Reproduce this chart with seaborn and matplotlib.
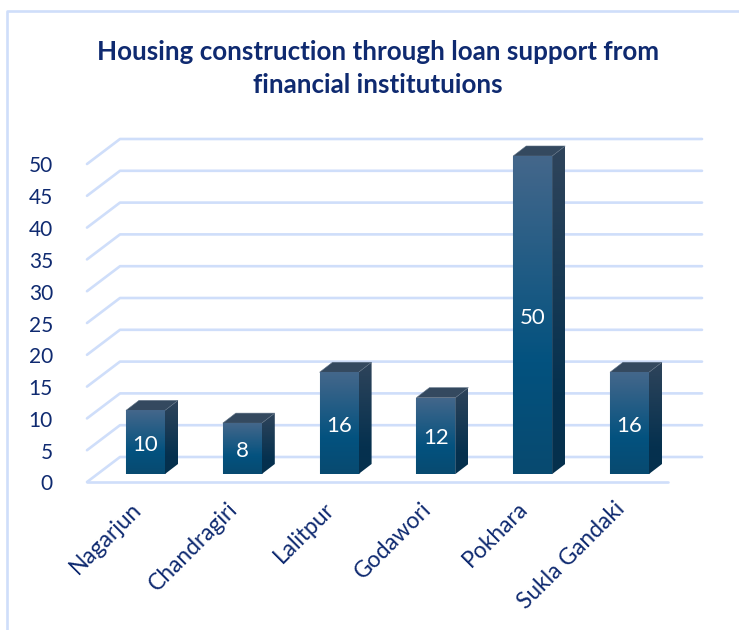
"""
Housing construction through loan support, drawn as a fake 3D column chart.
Front faces come from sns.barplot, the depth faces are added on top of them.
"""
import numpy as np
import pandas as pd
import seaborn as sns
import matplotlib
matplotlib.use('Agg')
import matplotlib.pyplot as plt
from matplotlib.lines import Line2D
from matplotlib.patches import Polygon
from matplotlib.transforms import ScaledTranslation
from matplotlib.colors import LinearSegmentedColormap

sites = ['Nagarjun', 'Chandragiri', 'Lalitpur', 'Godawori', 'Pokhara', 'Sukla Gandaki']
houses = [10, 8, 16, 12, 50, 16]
yticks = [0, 5, 10, 15, 20, 25, 30, 35, 40, 45, 50]
title = 'Housing construction through loan support from\nfinancial institutuions'

NAVY = '#0f2a70'
GRID = '#cfdefa'

sns.set_theme(style='white')
plt.rcParams['font.family'] = ['Lato', 'DejaVu Sans']

W, H = 739, 630
fig = plt.figure(figsize=(W / 100, H / 100), dpi=100)

# axes box in pixels of the picture: bar floor at 474, back wall top at 139
left, right, bottom, top = 87, 702, 474, 139
ax = fig.add_axes([left / W, 1 - bottom / H, (right - left) / W, (bottom - top) / H])

cat_px = 96.8    # pixels between two categories
unit_px = 6.36   # pixels for one unit on y
first_px = 145.5
sx = 1 / cat_px
sy = 1 / unit_px

df = pd.DataFrame({'site': sites, 'houses': houses})
sns.barplot(data=df, x='site', y='houses', width=39 * sx, color='#0a4f7a',
            edgecolor='#7f9ab2', linewidth=0.8, saturation=1, zorder=3, ax=ax)

xlim = ((left - first_px) * sx, (right - first_px) * sx)
ylim = (0, (bottom - top) * sy)

# wall and floor lines
x_front = xlim[0]
x_back = (120 - first_px) * sx
for v in yticks:
    y_front = v - 8 * sy
    y_back = v + 17 * sy
    ax.plot([x_front, x_back, xlim[1]], [y_front, y_back, y_back], color=GRID,
            lw=1.9, clip_on=False, zorder=1, solid_joinstyle='round')
ax.plot([x_front, (668 - first_px) * sx], [-8 * sy, -8 * sy], color=GRID,
        lw=1.9, clip_on=False, zorder=1)

front_cmap = LinearSegmentedColormap.from_list(
    'front', [(0, '#44678b'), (0.65, '#03527f'), (1, '#084a70')])
side_cmap = LinearSegmentedColormap.from_list(
    'side', [(0, '#2f445b'), (0.75, '#05314f'), (1, '#05304d')])
gradient = np.linspace(0, 1, 128).reshape(-1, 1)

depth_x = 13 * sx
depth_y = 10 * sy

for bar, value in zip(ax.patches, houses):
    x0 = bar.get_x()
    x1 = x0 + bar.get_width()

    # front face gradient, clipped to the seaborn bar
    im = ax.imshow(gradient, cmap=front_cmap, aspect='auto', zorder=3.1,
                   extent=(x0, x1, 0, value), origin='upper')
    im.set_clip_path(bar)

    # side face
    side = Polygon([(x1, 0), (x1 + depth_x, depth_y), (x1 + depth_x, value + depth_y),
                    (x1, value)], closed=True, facecolor='none', edgecolor='none',
                   clip_on=False, zorder=3)
    ax.add_patch(side)
    im = ax.imshow(gradient, cmap=side_cmap, aspect='auto', zorder=3,
                   extent=(x1, x1 + depth_x, 0, value + depth_y), origin='upper')
    im.set_clip_path(side)

    # top face
    ax.add_patch(Polygon([(x0, value), (x0 + depth_x, value + depth_y),
                          (x1 + depth_x, value + depth_y), (x1, value)], closed=True,
                         facecolor='#34495f', edgecolor='#5d7084', linewidth=0.4,
                         clip_on=False, zorder=3))

    ax.text((x0 + x1) / 2, value / 2 - 2.5 * sy, str(value), color='white', fontsize=16,
            ha='center', va='center', zorder=4)

ax.set_xlim(xlim)
ax.set_ylim(ylim)
ax.set_xlabel('')
ax.set_ylabel('')
sns.despine(ax=ax, left=True, bottom=True)
ax.patch.set_alpha(0)

ax.set_yticks(yticks)
ax.set_yticklabels([str(v) for v in yticks], color=NAVY, fontsize=15)
ax.tick_params(axis='y', length=0, pad=24.5)
ax.tick_params(axis='x', length=0, pad=22)
ax.set_xticks(range(len(sites)))
ax.set_xticklabels(sites, color=NAVY, fontsize=16.4, rotation=45, ha='right',
                   va='center', rotation_mode='anchor')

# labels sit on the front edge of the floor, a bit under the bars
down = ScaledTranslation(0, -8.5 / 100, fig.dpi_scale_trans)
for lab in ax.get_yticklabels():
    lab.set_transform(lab.get_transform() + down)
shift = ScaledTranslation(-8 / 100, -1 / 100, fig.dpi_scale_trans)
for lab in ax.get_xticklabels():
    lab.set_transform(lab.get_transform() + shift)

fig.text(378 / W, 1 - 68.5 / H, title, color=NAVY, fontsize=18.7, fontweight='bold',
         ha='center', va='center', linespacing=1.45)

# chart border, only top and left are inside the crop
fig.add_artist(Line2D([7 / W, 7 / W, 1], [0, 1 - 11 / H, 1 - 11 / H], color=GRID, lw=1.9))

fig.savefig('out.png', dpi=100)
